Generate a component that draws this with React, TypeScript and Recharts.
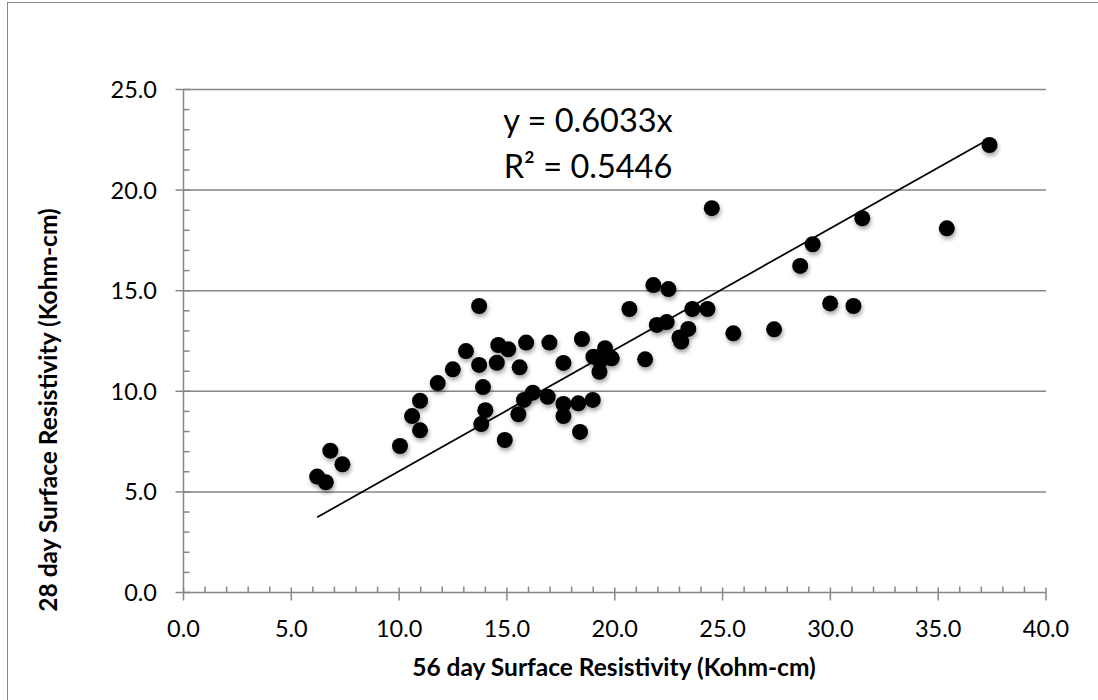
import { ScatterChart, Scatter, XAxis, YAxis, ReferenceLine } from 'recharts';

// 56 day resistivity (x) vs 28 day resistivity (y), Kohm-cm
const day56 = [
  6.2, 6.6, 6.81, 7.37, 10.04, 10.6, 10.97, 10.97, 11.79, 12.49,
  13.1, 13.71, 13.71, 13.89, 14.0, 13.81, 14.6, 15.06, 14.53, 15.89,
  15.59, 16.97, 17.62, 18.48, 16.2, 15.79, 15.53, 14.9, 16.89, 17.62,
  17.62, 18.31, 18.98, 18.39, 19.01, 19.55, 19.86, 19.29, 19.32, 20.68,
  21.41, 21.79, 22.49, 21.95, 22.41, 23.6, 24.3, 23.41, 23.0, 23.08,
  25.5, 24.5, 31.48, 35.4, 29.18, 28.6, 29.99, 31.07, 27.39, 37.38,
];
const day28 = [
  5.76, 5.48, 7.05, 6.37, 7.28, 8.77, 9.53, 8.06, 10.41, 11.09,
  12.0, 14.24, 11.31, 10.21, 9.06, 8.37, 12.3, 12.09, 11.42, 12.42,
  11.19, 12.42, 11.41, 12.6, 9.93, 9.57, 8.86, 7.58, 9.73, 9.37,
  8.77, 9.4, 9.57, 7.98, 11.72, 12.14, 11.64, 10.97, 11.51, 14.09,
  11.59, 15.28, 15.08, 13.3, 13.44, 14.09, 14.09, 13.1, 12.68, 12.47,
  12.88, 19.1, 18.6, 18.1, 17.31, 16.23, 14.37, 14.24, 13.08, 22.24,
];

const slope = 0.6033;
const r2 = '0.5446';

const xTicks = [
  0, 1, 2, 3, 4, 5, 6, 7, 8, 9, 10, 11, 12, 13, 14, 15, 16, 17, 18, 19, 20,
  21, 22, 23, 24, 25, 26, 27, 28, 29, 30, 31, 32, 33, 34, 35, 36, 37, 38, 39, 40,
];
const yTicks = [
  0, 1, 2, 3, 4, 5, 6, 7, 8, 9, 10, 11, 12, 13, 14, 15, 16, 17, 18, 19, 20,
  21, 22, 23, 24, 25,
];
const gridValues = [5, 10, 15, 20, 25];

const points = day56.map((x, i) => ({ x, y: day28[i] }));
const xMin = Math.min(...day56);
const xMax = Math.max(...day56);
const trend = [
  { x: xMin, y: slope * xMin },
  { x: xMax, y: slope * xMax },
];

const AXIS = '#868686';
const FONT = 'Lato, "Open Sans", sans-serif';

const XTick = ({ x, y, payload }: any) => {
  const v = payload.value;
  const major = v % 5 === 0;
  return (
    <g>
      {major ? (
        <line x1={x} x2={x} y1={y - 5} y2={y + 8} stroke={AXIS} strokeWidth={1.5} />
      ) : (
        <line x1={x} x2={x} y1={y - 6} y2={y} stroke={AXIS} strokeWidth={1.5} />
      )}
      {major && (
        <text x={x} y={y + 44} textAnchor="middle" fontSize={23.5} fontFamily={FONT} fill="#000">
          {v.toFixed(1)}
        </text>
      )}
    </g>
  );
};

const YTick = ({ x, y, payload }: any) => {
  const v = payload.value;
  const major = v % 5 === 0;
  return (
    <g>
      {major ? (
        <line x1={x - 8} x2={x + 7} y1={y} y2={y} stroke={AXIS} strokeWidth={1.5} />
      ) : (
        <line x1={x} x2={x + 6} y1={y} y2={y} stroke={AXIS} strokeWidth={1.5} />
      )}
      {major && (
        <text x={x - 26.5} y={y + 8.5} textAnchor="end" fontSize={23.5} fontFamily={FONT} fill="#000">
          {v.toFixed(1)}
        </text>
      )}
    </g>
  );
};

const Dot = ({ cx, cy }: any) => (
  <circle
    cx={cx}
    cy={cy}
    r={8}
    fill="#000"
    style={{ filter: 'drop-shadow(1px 3px 2px rgba(0,0,0,0.35))' }}
  />
);

export default function App() {
  return (
    <div style={{ position: 'absolute', left: 0, top: 0, width: 1098, height: 700, background: '#fff', overflow: 'hidden' }}>
      <div
        style={{
          position: 'absolute', left: 7, top: 2, width: 1120, height: 720,
          border: `1.5px solid ${AXIS}`, boxSizing: 'border-box',
        }}
      />
      <ScatterChart width={1098} height={700} margin={{ top: 89.5, right: 52, bottom: 0, left: 0 }}>
        <XAxis
          type="number"
          dataKey="x"
          domain={[0, 40]}
          ticks={xTicks}
          interval={0}
          tickLine={false}
          tickSize={0}
          tickMargin={0}
          tick={<XTick />}
          axisLine={{ stroke: AXIS, strokeWidth: 1.5 }}
          height={107.5}
          allowDataOverflow
        />
        <YAxis
          type="number"
          dataKey="y"
          domain={[0, 25]}
          ticks={yTicks}
          interval={0}
          tickLine={false}
          tickSize={0}
          tickMargin={0}
          tick={<YTick />}
          axisLine={{ stroke: AXIS, strokeWidth: 1.5 }}
          width={183.5}
          allowDataOverflow
        />
        {gridValues.map((v) => (
          <ReferenceLine key={v} y={v} stroke={AXIS} strokeWidth={1.5} />
        ))}
        <Scatter
          data={trend}
          line={{ stroke: '#000', strokeWidth: 1.75 }}
          shape={() => null}
          isAnimationActive={false}
        />
        <Scatter data={points} shape={<Dot />} isAnimationActive={false} />
      </ScatterChart>
      <svg
        width={1098}
        height={700}
        style={{ position: 'absolute', left: 0, top: 0, pointerEvents: 'none' }}
      >
        <text x={588} y={132} textAnchor="middle" fontSize={32.5} fontFamily={FONT} fill="#000">
          y = {slope}x
        </text>
        <text x={588} y={178} textAnchor="middle" fontSize={32.5} fontFamily={FONT} fill="#000">
          R² = {r2}
        </text>
        <text x={614} y={676} textAnchor="middle" fontSize={24.5} fontWeight="bold" fontFamily={FONT} fill="#000">
          56 day Surface Resistivity (Kohm-cm)
        </text>
        <text
          x={0}
          y={0}
          transform="translate(57 410) rotate(-90)"
          textAnchor="middle"
          fontSize={24.5}
          fontWeight="bold"
          fontFamily={FONT}
          fill="#000"
        >
          28 day Surface Resistivity (Kohm-cm)
        </text>
      </svg>
    </div>
  );
}
